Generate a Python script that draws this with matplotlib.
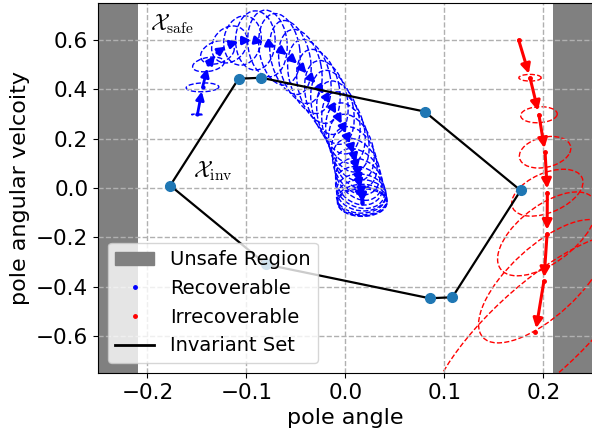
import numpy as np
import matplotlib
matplotlib.use("Agg")
import matplotlib.pyplot as plt
from matplotlib.patches import Ellipse, Patch
from matplotlib.lines import Line2D

plt.rcParams['mathtext.fontset'] = 'cm'

# 不変集合（多角形の頂点）
inv_x = [-0.177, -0.108, -0.085, 0.080, 0.177, 0.108, 0.085, -0.080]
inv_y = [0.010, 0.443, 0.447, 0.310, -0.010, -0.443, -0.447, -0.310]

# 回復可能な軌道（青）: 中心と楕円の半幅・半高さ・相関
blue_x = [-0.1495, -0.1444, -0.1384, -0.1293, -0.1172, -0.104, -0.091, -0.0788, -0.0667,
          -0.0556, -0.0455, -0.0364, -0.0273, -0.0192, -0.0131, -0.0071, -0.002, 0.002,
          0.006, 0.009, 0.011, 0.013, 0.014, 0.015, 0.016, 0.016, 0.017, 0.017, 0.017]
blue_y = [0.298, 0.408, 0.501, 0.550, 0.582, 0.598, 0.598, 0.586, 0.562,
          0.529, 0.493, 0.452, 0.412, 0.367, 0.327, 0.286, 0.245, 0.205,
          0.164, 0.124, 0.087, 0.055, 0.026, 0.002, -0.018, -0.034, -0.047, -0.055, -0.059]
blue_sx = [0.006, 0.0165, 0.016, 0.017, 0.018, 0.019, 0.020, 0.020, 0.021,
           0.021, 0.022, 0.022, 0.022, 0.022, 0.022, 0.022, 0.022, 0.022,
           0.023, 0.023, 0.024, 0.024, 0.024, 0.025, 0.025, 0.025, 0.025, 0.025, 0.025]
blue_sy = [0.002, 0.018, 0.030, 0.048, 0.075, 0.100, 0.120, 0.135, 0.145,
           0.150, 0.150, 0.150, 0.150, 0.150, 0.150, 0.148, 0.145, 0.140,
           0.135, 0.125, 0.115, 0.105, 0.095, 0.085, 0.075, 0.068, 0.062, 0.058, 0.056]
blue_r = [0.0, 0.1, 0.3, 0.3, 0.2, 0.1, 0.0, -0.1, -0.2,
          -0.3, -0.3, -0.3, -0.3, -0.3, -0.3, -0.3, -0.3, -0.3,
          -0.3, -0.3, -0.3, -0.3, -0.2, -0.2, -0.1, 0.0, 0.0, 0.0, 0.0]

# 回復不能な軌道（赤）
red_x = [0.175, 0.1865, 0.1955, 0.2017, 0.204, 0.2037, 0.2005, 0.192]
red_y = [0.600, 0.447, 0.297, 0.145, -0.019, -0.186, -0.378, -0.585]
red_sx = [0.0, 0.0113, 0.0185, 0.026, 0.036, 0.050, 0.066, 0.107]
red_sy = [0.0, 0.0135, 0.0325, 0.064, 0.095, 0.17, 0.25, 0.40]
red_r = [0.0, 0.0, 0.1, 0.25, 0.45, 0.6, 0.7, 0.8]

theta_max = 0.2094  # 12 deg


def draw_ellipse(ax, cx, cy, sx, sy, r, color, lw):
    if sx <= 0 or sy <= 0:
        return
    cov = np.array([[sx * sx, r * sx * sy], [r * sx * sy, sy * sy]])
    vals, vecs = np.linalg.eigh(cov)
    vals = np.clip(vals, 0, None)
    ang = np.degrees(np.arctan2(vecs[1, 1], vecs[0, 1]))
    e = Ellipse((cx, cy), width=2 * np.sqrt(vals[1]), height=2 * np.sqrt(vals[0]),
                angle=ang, fill=False, edgecolor=color, linestyle='--', lw=lw)
    ax.add_patch(e)


def draw_traj(ax, xs, ys, sxs, sys_, rs, color, lw_arrow, ms, head):
    for i in range(len(xs)):
        draw_ellipse(ax, xs[i], ys[i], sxs[i], sys_[i], rs[i], color, 1.0)
    for i in range(len(xs) - 1):
        ax.annotate('', xy=(xs[i + 1], ys[i + 1]), xytext=(xs[i], ys[i]),
                    arrowprops=dict(arrowstyle='-|>', color=color, lw=lw_arrow,
                                    mutation_scale=head, shrinkA=0, shrinkB=3))
    ax.plot(xs, ys, '.', color=color, ms=ms, ls='')


fig = plt.figure(figsize=(5.92, 4.36), dpi=100)
ax = fig.add_axes([0.1655, 0.1445, 0.836, 0.8486])

ax.axvspan(-0.25, -theta_max, color='gray', lw=0)
ax.axvspan(theta_max, 0.25, color='gray', lw=0)
ax.grid(True, linestyle='--', color='#b0b0b0', lw=1)

draw_traj(ax, blue_x, blue_y, blue_sx, blue_sy, blue_r, 'blue', 2.0, 4, 12)
draw_traj(ax, red_x, red_y, red_sx, red_sy, red_r, 'red', 2.2, 5, 14)

ax.plot(inv_x + inv_x[:1], inv_y + inv_y[:1], color='black', lw=1.6, zorder=3)
ax.plot(inv_x, inv_y, 'o', color='C0', ms=7, zorder=4)

ax.text(-0.197, 0.64, r'$\mathcal{X}_{\rm safe}$', fontsize=16)
ax.text(-0.1535, 0.044, r'$\mathcal{X}_{\rm inv}$', fontsize=16)

ax.set_xlim(-0.25, 0.25)
ax.set_ylim(-0.75, 0.75)
ax.set_xticks([-0.2, -0.1, 0.0, 0.1, 0.2])
ax.set_yticks([-0.6, -0.4, -0.2, 0.0, 0.2, 0.4, 0.6])
ax.tick_params(labelsize=15.5)
ax.set_xlabel('pole angle', fontsize=16)
ax.set_ylabel('pole angular velcoity', fontsize=16)

handles = [Patch(color='gray', label='Unsafe Region'),
           Line2D([], [], marker='.', ls='', color='blue', ms=5, label='Recoverable'),
           Line2D([], [], marker='.', ls='', color='red', ms=5, label='Irrecoverable'),
           Line2D([], [], color='black', lw=2, label='Invariant Set')]
leg = ax.legend(handles=handles, loc='lower left', fontsize=14)
leg.set_zorder(10)

fig.savefig('out.png', dpi=100)
